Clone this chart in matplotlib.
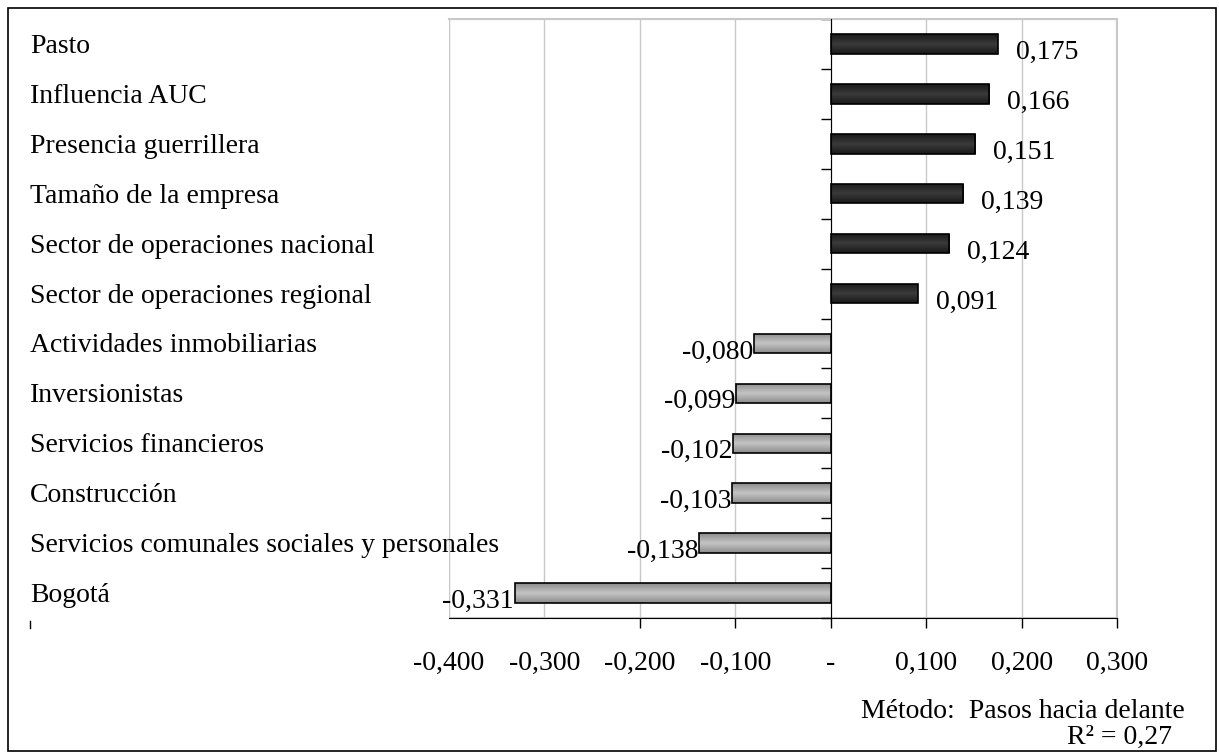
import matplotlib
matplotlib.use("Agg")
import numpy as np
import matplotlib.pyplot as plt
from matplotlib.patches import Rectangle
from matplotlib.lines import Line2D
from matplotlib.colors import LinearSegmentedColormap
import matplotlib.transforms as mtransforms

# data
categories = ["Pasto", "Influencia AUC", "Presencia guerrillera",
              "Tamaño de la empresa", "Sector de operaciones nacional",
              "Sector de operaciones regional", "Actividades inmobiliarias",
              "Inversionistas", "Servicios financieros", "Construcción",
              "Servicios comunales sociales y personales", "Bogotá"]
values = [0.175, 0.166, 0.151, 0.139, 0.124, 0.091,
          -0.080, -0.099, -0.102, -0.103, -0.138, -0.331]
xticks = [-0.4, -0.3, -0.2, -0.1, 0.0, 0.1, 0.2, 0.3]
xticklabels = ["-0,400", "-0,300", "-0,200", "-0,100", "-", "0,100", "0,200", "0,300"]

plt.rcParams['font.family'] = ['Liberation Serif', 'DejaVu Serif']
fs = 20

# bar fills: vertical shading like the original
dark = LinearSegmentedColormap.from_list('dark', ['#1a1a1a', '#3a3a3a', '#1a1a1a'])
grey = LinearSegmentedColormap.from_list('grey', ['#8c8c8c', '#c4c4c4', '#8c8c8c'])

fig = plt.figure(figsize=(12.19, 7.52), dpi=100)
ax = fig.add_axes([449 / 1219, 1 - 618 / 752, (1117 - 449) / 1219, (618 - 19) / 752])

# outer border of the figure
fig.patches.append(Rectangle((8 / 1219, 1 / 752), 1208 / 1219, 743 / 752,
                             transform=fig.transFigure, fill=False,
                             edgecolor='black', linewidth=1.2))
# small stray mark under the labels
fig.lines.append(Line2D([30 / 1219, 30 / 1219], [1 - 621 / 752, 1 - 628 / 752],
                        transform=fig.transFigure, color='black', linewidth=1))

pos = list(range(len(categories)))
h = 0.39
bars = ax.barh(pos, values, height=h, color='none', edgecolor='black', linewidth=1.2, zorder=3)
grad = np.linspace(0, 1, 64).reshape(-1, 1)
for b, p, v in zip(bars, pos, values):
    cm = dark if v > 0 else grey
    im = ax.imshow(grad, cmap=cm, aspect='auto', interpolation='bilinear',
                   extent=(min(0, v), max(0, v), p + h / 2, p - h / 2), zorder=2)
    im.set_clip_path(b)

ax.set_xlim(-0.4, 0.3)
ax.set_ylim(11.5, -0.5)

# grid and gray plot frame
ax.set_xticks(xticks)
ax.set_xticklabels(xticklabels, fontsize=fs)
ax.grid(axis='x', color='#c8c8c8', linewidth=1, zorder=0)
for s in ['top', 'right']:
    ax.spines[s].set_color('#c8c8c8')
    ax.spines[s].set_linewidth(1.5)
ax.add_patch(Rectangle((0, 0), 1, 1, transform=ax.transAxes, fill=False,
                       edgecolor='#c8c8c8', linewidth=1.5, zorder=1))

# vertical axis at zero
ax.spines['left'].set_position(('data', 0))
ax.spines['left'].set_color('black')
ax.spines['left'].set_zorder(4)
ax.set_yticks([p - 0.5 for p in pos] + [11.5])
ax.set_yticklabels([])
ax.tick_params(axis='y', direction='out', length=7, width=1, color='black')

# bottom axis
ax.spines['bottom'].set_color('black')
ax.tick_params(axis='x', direction='out', length=7, width=1, pad=17, color='black')
for i, t in enumerate(ax.xaxis.get_major_ticks()):
    if i < 2:
        t.tick1line.set_visible(False)

# category names at the left of the figure
trans = mtransforms.blended_transform_factory(fig.transFigure, ax.transData)
for p, c in zip(pos, categories):
    ax.text(30 / 1219, p + 0.05, c, transform=trans, ha='left', va='center',
            fontsize=fs, clip_on=False)

# value labels
for p, v in zip(pos, values):
    lab = f"{v:.3f}".replace('.', ',')
    if v > 0:
        ax.text(v + 0.019, p + 0.17, lab, ha='left', va='center', fontsize=fs, zorder=5)
    else:
        ax.text(v - 0.001, p + 0.17, lab, ha='right', va='center', fontsize=fs, zorder=5)

fig.text(1185 / 1219, 1 - 712 / 752, "Método:  Pasos hacia delante",
         ha='right', va='center', fontsize=fs)
fig.text(1172 / 1219, 1 - 737 / 752, "R² = 0,27",
         ha='right', va='center', fontsize=fs)

fig.savefig("out.png", dpi=100)
